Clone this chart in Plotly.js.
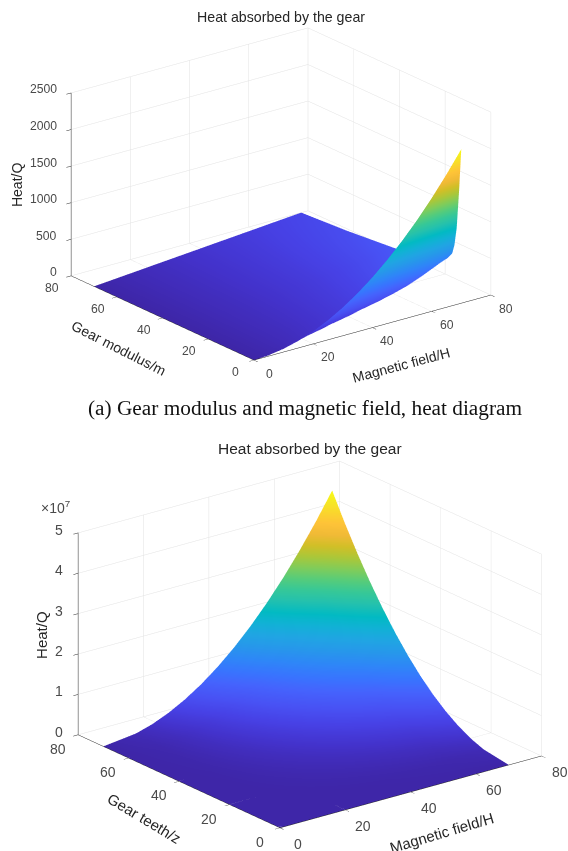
<!DOCTYPE html>
<html><head><meta charset="utf-8">
<script src="https://cdn.plot.ly/plotly-3.0.1.min.js"></script>
<style>html,body{margin:0;padding:0;background:#fff}#c{width:568px;height:851px}</style></head>
<body><div id="c"></div>
<script>
const H1=[0,5,10,15,20,25,30,35,40,45,50,55,60,65,70];
const M1=[0,1,2,3,4,6,10,20,30,50,70];
const Q1=[
[0,11,43,97,172,269,387,527,688,871,1075,1300,1548,1817,2107],
[0,15,36,70,122,190,272,370,485,612,760,925,1100,1295,1500],
[0,17,38,60,90,130,185,250,325,410,510,620,735,865,1000],
[0,18,39,60,85,112,145,185,235,290,355,430,515,625,750],
[0,19,39,60,83,108,135,166,202,243,292,350,430,520,620],
[0,19,38,58,80,103,128,156,188,223,265,320,385,455,530],
[0,18,37,56,76,98,121,146,174,205,240,285,335,390,450],
[0,18,36,54,73,92,113,136,160,187,218,254,292,330,370],
[0,17,35,52,70,88,107,127,148,172,198,226,258,293,330],
[0,17,34,51,68,85,103,120,140,160,182,205,228,250,270],
[0,16,33,49,66,82,99,115,132,148,165,181,198,214,230]];
const H2=[0,10,15,20,25,30,35,40,45,50,55,60,65,70];
const Z2=[0,10,15,20,25,30,35,40,45,50,55,60,65,70];
const Q2=[
[0,0,0,0,0,0,0,0,0,0,0,0,0,0],
[0,.001,.002,.004,.007,.010,.014,.019,.025,.031,.039,.047,.070,.098],
[0,.002,.005,.010,.017,.025,.035,.047,.061,.077,.095,.115,.163,.219],
[0,.004,.010,.019,.031,.047,.066,.089,.115,.145,.179,.216,.297,.390],
[0,.007,.017,.031,.051,.077,.108,.145,.188,.237,.292,.353,.474,.610],
[0,.010,.025,.047,.077,.115,.161,.216,.280,.353,.436,.528,.693,.878],
[0,.014,.035,.066,.108,.161,.226,.304,.393,.496,.612,.741,.957,1.195],
[0,.019,.047,.089,.145,.216,.304,.408,.528,.666,.821,.994,1.266,1.561],
[0,.025,.061,.115,.188,.280,.393,.528,.684,.862,1.063,1.288,1.620,1.976],
[0,.031,.077,.145,.237,.353,.496,.666,.863,1.087,1.341,1.624,2.020,2.439],
[0,.039,.095,.179,.292,.436,.612,.821,1.064,1.341,1.654,2.003,2.466,2.951],
[0,.047,.115,.216,.353,.528,.741,.994,1.288,1.624,2.003,2.426,2.961,3.512],
[0,.070,.163,.297,.474,.693,.957,1.266,1.620,2.020,2.466,2.961,3.502,4.121],
[0,.098,.219,.390,.610,.878,1.195,1.561,1.976,2.439,2.951,3.512,4.121,4.78]];
const ticksXY=[0,20,40,60,80];
const ticksZ1=[0,500,1000,1500,2000,2500];
const ticksZ2=[0,1,2,3,4,5];
const parula=[[62,38,168],[67,50,203],[71,65,229],[72,82,244],[69,99,253],[56,117,254],[46,135,247],[39,151,235],[32,165,227],[18,177,214],[2,186,195],[36,193,174],[55,200,151],[87,204,122],[129,204,89],[171,199,57],[209,191,39],[240,186,54],[254,195,56],[250,214,45],[245,233,36],[249,251,21]];
const cs=parula.map((c,i)=>[i/(parula.length-1),'rgb('+c.join(',')+')']);
const sans='Liberation Sans, Arial, sans-serif',serif='Liberation Serif, Times New Roman, serif';
function ax(vals,range){return {title:{text:''},range:range,tickmode:'array',tickvals:vals,showticklabels:false,showgrid:true,gridcolor:'#e2e2e2',gridwidth:1,showline:true,linecolor:'#262626',linewidth:1,ticks:'outside',ticklen:6,tickcolor:'#262626',
 zeroline:false,showbackground:false,showspikes:false,mirror:false};}
const surf=(x,y,z,cmax)=>({type:'surface',x:x,y:y,z:z,colorscale:cs,cmin:0,cmax:cmax,showscale:false,hoverinfo:'skip',
 lighting:{ambient:1,diffuse:0,specular:0,roughness:1,fresnel:0},contours:{x:{highlight:false},y:{highlight:false},z:{highlight:false}}});
const cam=(k,sx)=>({eye:{x:-.61*k+sx*0.795,y:-.79*k-sx*0.607,z:.38*k},center:{x:sx*0.795,y:-sx*0.607,z:0},up:{x:0,y:0,z:1},projection:{type:'orthographic'}});
const t1=surf(H1,M1,Q1,2107);
const t2=surf(H2,Z2,Q2,4.78);t2.scene='scene2';
const ann=(x,y,text,size,fam,color)=>({xref:'paper',yref:'paper',x:x/568,y:1-y/851,text:text,showarrow:false,xanchor:'center',yanchor:'middle',font:{family:fam,size:size,color:color}});
const lab=(x,y,z,text,dx,dy,size,color,extra)=>Object.assign({x:x,y:y,z:z,text:text,showarrow:false,xshift:dx,yshift:-dy,xanchor:'center',yanchor:'middle',font:{family:sans,size:size,color:color}},extra||{});
function sceneLabels(o){
 const tc='#4a4a4a',tt='#262626';
 return [].concat(
  ticksXY.map(v=>lab(v,0,0,String(v),o.xd[0],o.xd[1],o.fs,tc)),
  ticksXY.map(v=>lab(0,v,0,String(v),o.yd[0],o.yd[1],o.fs,tc)),
  o.zt.map(v=>lab(0,80,v,String(v),o.zd[0],o.zd[1],o.fs,tc,{xanchor:'right'})),
  [lab(40,0,0,o.xt,o.xtd[0],o.xtd[1],o.ts,tt,{textangle:o.xa}),
   lab(0,40,0,o.yt,o.ytd[0],o.ytd[1],o.ts,tt,{textangle:o.ya}),
   lab(0,80,o.zm,'Heat/Q',o.ztd[0],o.ztd[1],o.ts,tt,{textangle:-90})]);
}
const layout={width:568,height:851,margin:{l:0,r:0,t:0,b:0},paper_bgcolor:'#fff',showlegend:false,
 scene:{domain:{x:[0,562/568],y:[1-383.5/851,1-3.5/851]},aspectmode:'manual',aspectratio:{x:1.575,y:1.575,z:1.03},camera:cam(2,0),
  xaxis:ax(ticksXY,[0,80]),yaxis:ax(ticksXY,[0,80]),zaxis:ax(ticksZ1,[0,2500]),
  annotations:sceneLabels({fs:12.2,ts:14,zt:ticksZ1,zm:1250,xd:[15,14],yd:[-19,12.5],zd:[-12,-3],xt:'Magnetic field/H',xtd:[29,37.5],xa:-15,yt:'Gear modulus/m',ytd:[-44,30.5],ya:27,ztd:[-54,1]})},
 scene2:{domain:{x:[0,1],y:[0,1-438/851]},aspectmode:'manual',aspectratio:{x:1.6,y:1.6,z:1.046},camera:cam(2,-.125),
  xaxis:ax(ticksXY,[0,80]),yaxis:ax(ticksXY,[0,80]),zaxis:ax(ticksZ2,[0,5]),
  annotations:sceneLabels({fs:14,ts:15,zt:ticksZ2,zm:2.5,xd:[18,16],yd:[-20.5,14],zd:[-13.5,-3],xt:'Magnetic field/H',xtd:[31.5,40.5],xa:-16.6,yt:'Gear teeth/z',ytd:[-34.5,37],ya:31,ztd:[-36,1]})},
 annotations:[
  ann(281,17,'Heat absorbed by the gear',14.2,sans,'#262626'),
  ann(310,448,'Heat absorbed by the gear',15.5,sans,'#262626'),
  ann(304.5,408,'(a) Gear modulus and magnetic field, heat diagram',21.3,serif,'#111'),
  ann(56,507,'×10<sup>7</sup>',14,sans,'#4a4a4a')]};
Plotly.newPlot('c',[t1,t2],layout,{displayModeBar:false});
</script></body></html>
